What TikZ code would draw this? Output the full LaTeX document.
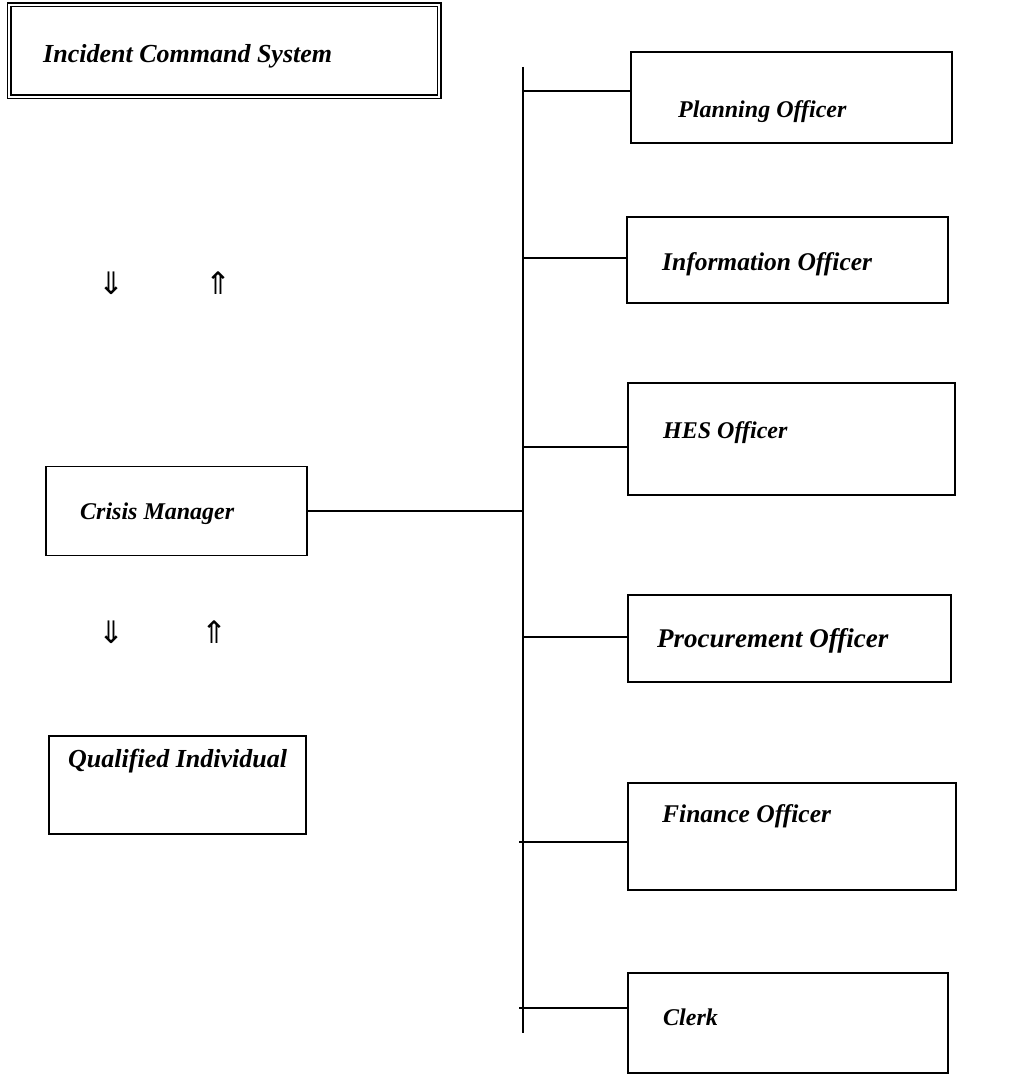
\documentclass[tikz,border=0pt]{standalone}
\usepackage{fontspec}
\setmainfont{Liberation Serif}
\newfontfamily\arrowfont{DejaVu Sans}
\begin{document}
\begin{tikzpicture}[x=1pt,y=-1pt,
  box/.style={draw, line width=1.6pt, rectangle, inner sep=0pt},
  lbl/.style={anchor=base west, inner sep=0pt, font=\fontsize{24}{28}\selectfont\bfseries\itshape},
  big/.style={font=\fontsize{26}{30}\selectfont\bfseries\itshape},
  arr/.style={inner sep=0pt, font=\fontsize{31}{34}\selectfont\arrowfont},
  wire/.style={line width=1.6pt}]
\useasboundingbox (0,0) rectangle (1023,1075);

% title box with a double frame
\node[draw, double, double distance=2.4pt, line width=1.3pt, minimum width=430pt, minimum height=92pt, inner sep=0pt] (ics) at (224,51) {};
\node[lbl, big] (icsT) at (43,63) {Incident Command System};

% left column
\node[arr] (dn1) at (111,283) {⇓};
\node[arr] (up1) at (218,283) {⇑};

\node[box, minimum width=261pt, minimum height=89pt] (crisis) at (176.5,511) {};
\node[lbl] (crisisT) at (80,519) {Crisis Manager};

\node[arr] (dn2) at (111,632) {⇓};
\node[arr] (up2) at (214,632) {⇑};

\node[box, minimum width=257pt, minimum height=98pt] (qual) at (177.5,785) {};
\node[lbl, big] (qualT) at (68,767) {Qualified Individual};

% right column of officers
\node[box, minimum width=321pt, minimum height=91pt] (plan) at (791.5,97.5) {};
\node[lbl] (planT) at (678,118) {Planning Officer};

\node[box, minimum width=321pt, minimum height=86pt] (info) at (787.5,260) {};
\node[lbl, font=\fontsize{25.5}{30}\selectfont\bfseries\itshape] (infoT) at (662,270) {Information Officer};

\node[box, minimum width=327pt, minimum height=112pt] (hes) at (791.5,439) {};
\node[lbl] (hesT) at (663,438) {HES Officer};

\node[box, minimum width=323pt, minimum height=87pt] (proc) at (789.5,638.5) {};
\node[lbl, font=\fontsize{27}{31}\selectfont\bfseries\itshape] (procT) at (657,647) {Procurement Officer};

\node[box, minimum width=328pt, minimum height=107pt] (fin) at (792,836.5) {};
\node[lbl, font=\fontsize{25.5}{30}\selectfont\bfseries\itshape] (finT) at (662,822) {Finance Officer};

\node[box, minimum width=320pt, minimum height=100pt] (clerk) at (788,1023) {};
\node[lbl] (clerkT) at (663,1025) {Clerk};

% vertical bus
\coordinate (bt) at (523,67);
\coordinate (bb) at (523,1033);
\draw[wire] (bt) -- (bb);

% branch points on the bus
\coordinate (jplan) at (523,91);
\coordinate (jinfo) at (523,258);
\coordinate (jhes) at (523,447);
\coordinate (jproc) at (523,637);
\coordinate (jfin) at (519,842);
\coordinate (jclerk) at (519,1008);

\draw[wire] (crisis.east) -- (crisis.east -| bt);
\draw[wire] (jplan) -- (jplan -| plan.west);
\draw[wire] (jinfo) -- (jinfo -| info.west);
\draw[wire] (jhes) -- (jhes -| hes.west);
\draw[wire] (jproc) -- (jproc -| proc.west);
\draw[wire] (jfin) -- (jfin -| fin.west);
\draw[wire] (jclerk) -- (jclerk -| clerk.west);
\end{tikzpicture}
\end{document}
